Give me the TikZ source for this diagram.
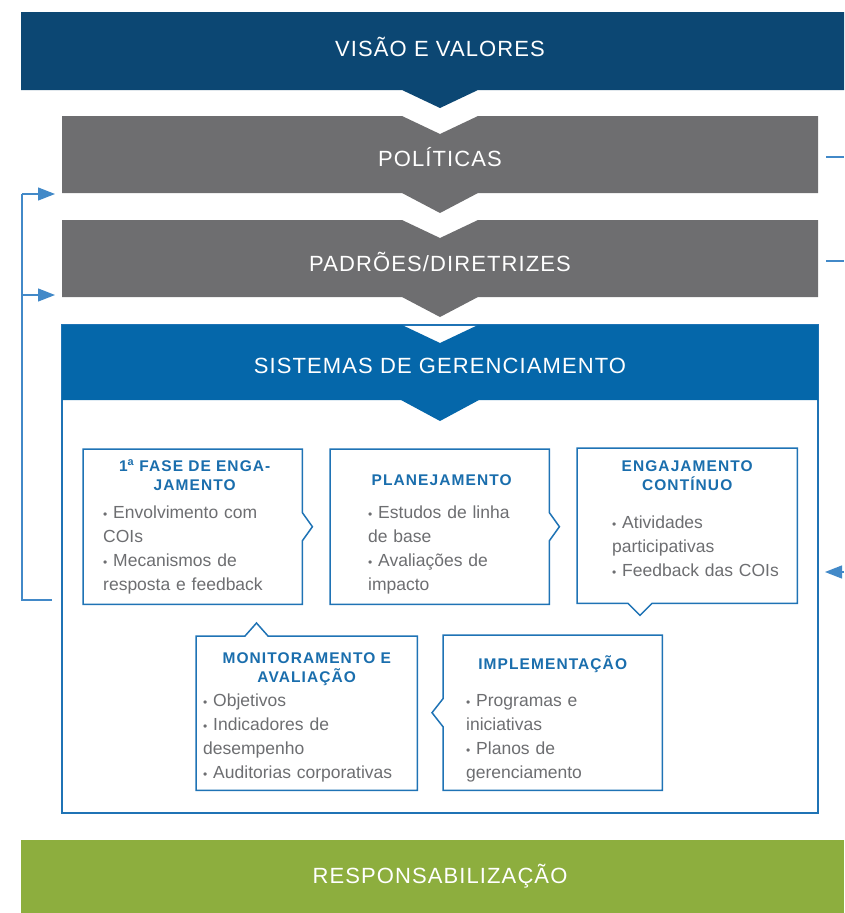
\documentclass[tikz,border=0pt]{standalone}
\usepackage{fontspec}
\setmainfont{Liberation Sans}
\newfontfamily\headfont[LetterSpace=5]{Liberation Sans}
\newfontfamily\titlefont[LetterSpace=7]{Liberation Sans}
\usepackage{xcolor}
\usetikzlibrary{calc,arrows.meta}

\definecolor{visaoblue}{HTML}{0C4773}
\definecolor{bandgray}{HTML}{6E6E70}
\definecolor{sistblue}{HTML}{0567AA}
\definecolor{respgreen}{HTML}{8DAE3E}
\definecolor{frameblue}{HTML}{1F73B5}
\definecolor{titleblue}{HTML}{1A6EAD}
\definecolor{bodygray}{HTML}{6D6E71}
\definecolor{fbblue}{HTML}{4289C8}

\newcommand{\itm}{{\fontsize{12}{12}\selectfont\textbullet}\ }

\begin{document}
\begin{tikzpicture}[x=1pt, y=-1pt,
    headtext/.style={text=white, font=\headfont\fontsize{22}{26}\selectfont},
    framebox/.style={inner sep=0pt, anchor=north west},
    frameline/.style={draw=frameblue, line width=1.5pt, fill=white, line join=miter},
    boxtitle/.style={text=titleblue, font=\titlefont\bfseries\fontsize{15.5}{19}\selectfont, align=center, inner sep=0pt, anchor=base},
    boxbody/.style={text=bodygray, font=\fontsize{17.5}{24}\selectfont, align=left, inner sep=0pt, anchor=base west, text width=215pt},
    fbline/.style={draw=fbblue, line width=1.3pt},
    fbarrow/.style={fbline, -{Triangle[length=17pt, width=13pt]}}]

    \useasboundingbox (0,0) rectangle (844,913);

    % bands
    \fill[visaoblue] (21,12) -- (844,12) -- (844,90) -- (478,90) -- (440,108) -- (402,90) -- (21,90) -- cycle;
    \node[headtext] (visao) at (440,47) {VISÃO E VALORES};

    \fill[bandgray] (62,116) -- (402,116) -- (440,134) -- (478,116) -- (818,116) -- (818,193) -- (478,193) -- (440,213) -- (402,193) -- (62,193) -- cycle;
    \node[headtext] (politicas) at (440,157) {POLÍTICAS};

    \fill[bandgray] (62,220) -- (402,220) -- (440,238) -- (478,220) -- (818,220) -- (818,297) -- (478,297) -- (440,317) -- (402,297) -- (62,297) -- cycle;
    \node[headtext] (padroes) at (440,262) {PADRÕES/DIRETRIZES};

    \draw[frameblue, line width=2pt] (62,325) rectangle (818,813);
    \fill[sistblue] (62,325) -- (402,325) -- (440,343) -- (478,325) -- (818,325) -- (818,400) -- (479,400) -- (440,421) -- (401,400) -- (62,400) -- cycle;
    \node[headtext] (sistemas) at (440,366) {SISTEMAS DE GERENCIAMENTO};

    \fill[respgreen] (21,840) rectangle (844,913);
    \node[headtext] (resp) at (440,876) {RESPONSABILIZAÇÃO};

    % feedback lines
    \coordinate (fbstart) at (52,600);
    \coordinate (polin) at (55,194);
    \coordinate (padin) at (55,295);
    \draw[fbline] (fbstart) -- (22,600) -- (22,194);
    \draw[fbarrow] (22,194) -- (polin);
    \draw[fbarrow] (22,295) -- (padin);
    \coordinate (retin) at (825,572);
    \draw[fbline] (826,157) -- (844,157);
    \draw[fbline] (826,261) -- (844,261);
    \draw[fbarrow] (844,572) -- (retin);

    % inner boxes
    \node[framebox, minimum width=219pt, minimum height=155pt] (fase) at (83,449) {};
    \draw[frameline] (fase.north west) -- (fase.north east) -- ($(fase.east)+(0,-14)$) -- ++(10,14) -- ++(-10,14) -- (fase.south east) -- (fase.south west) -- cycle;
    \node[boxtitle, text width=205pt] (fasett) at ($(fase.north)+(2,22)$) {1\textsuperscript{a} FASE DE ENGA-\\JAMENTO};
    \node[boxbody] (fasebd) at ($(fase.north west)+(20,69)$) {\itm Envolvimento com\\COIs\\\itm Mecanismos de\\resposta e feedback};

    \node[framebox, minimum width=219pt, minimum height=155pt] (plan) at (330,449) {};
    \draw[frameline] (plan.north west) -- (plan.north east) -- ($(plan.east)+(0,-14)$) -- ++(10,14) -- ++(-10,14) -- (plan.south east) -- (plan.south west) -- cycle;
    \node[boxtitle] (plantt) at ($(plan.north)+(2,36)$) {PLANEJAMENTO};
    \node[boxbody] (planbd) at ($(plan.north west)+(38,69)$) {\itm Estudos de linha\\de base\\\itm Avaliações de\\impacto};

    \node[framebox, minimum width=220pt, minimum height=155pt] (cont) at (577,448) {};
    \draw[frameline] (cont.north west) -- (cont.north east) -- (cont.south east) -- ($(cont.south west)+(75,0)$) -- ++(-12,12) -- ++(-12,-12) -- (cont.south west) -- cycle;
    \node[boxtitle, text width=205pt] (conttt) at ($(cont.north)+(0,23)$) {ENGAJAMENTO\\CONTÍNUO};
    \node[boxbody] (contbd) at ($(cont.north west)+(35,80)$) {\itm Atividades\\participativas\\\itm Feedback das COIs};

    \node[framebox, minimum width=221pt, minimum height=154pt] (monit) at (196,636) {};
    \draw[frameline] (monit.south west) -- (monit.north west) -- ($(monit.north west)+(49,0)$) -- ++(11.5,-13) -- ++(11.5,13) -- (monit.north east) -- (monit.south east) -- cycle;
    \node[boxtitle, text width=215pt] (monittt) at ($(monit.north)+(0,27)$) {MONITORAMENTO E\\AVALIAÇÃO};
    \node[boxbody] (monitbd) at ($(monit.north west)+(7,70)$) {\itm Objetivos\\\itm Indicadores de\\desempenho\\\itm Auditorias corporativas};

    \node[framebox, minimum width=219pt, minimum height=155pt] (impl) at (443,635) {};
    \draw[frameline] (impl.north west) -- (impl.north east) -- (impl.south east) -- (impl.south west) -- ($(impl.west)+(0,14)$) -- ++(-11,-14) -- ++(11,-14) -- cycle;
    \node[boxtitle] (impltt) at ($(impl.north)+(0,34)$) {IMPLEMENTAÇÃO};
    \node[boxbody] (implbd) at ($(impl.north west)+(23,71)$) {\itm Programas e\\iniciativas\\\itm Planos de\\gerenciamento};
\end{tikzpicture}
\end{document}
